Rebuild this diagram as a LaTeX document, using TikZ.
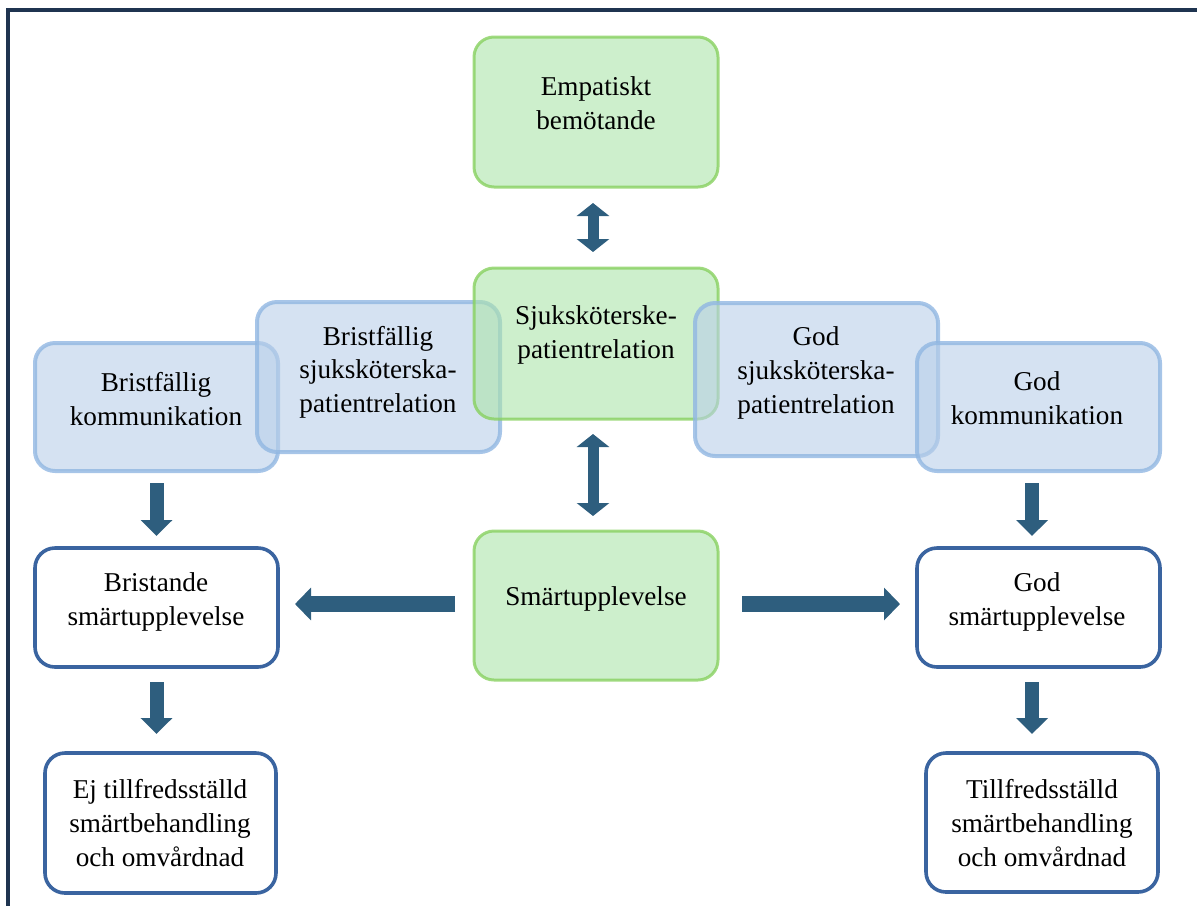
\documentclass[tikz,border=0pt]{standalone}
\usepackage{fontspec}
\setmainfont{Liberation Serif}
\usetikzlibrary{arrows.meta}
\definecolor{gfill}{HTML}{ACE4AA}
\definecolor{gline}{HTML}{88D160}
\definecolor{bfill}{HTML}{B9CFE9}
\definecolor{bline}{HTML}{91B7E2}
\definecolor{dline}{HTML}{3A64A0}
\definecolor{arr}{HTML}{2E5E7E}
\definecolor{frame}{HTML}{1F3450}
\tikzset{
  box/.style={anchor=north west, rounded corners=10pt, inner sep=0pt, outer sep=0pt},
  greenbox/.style={box, fill=gfill, fill opacity=0.6, draw=gline, draw opacity=0.8, line width=1.5pt},
  bluebox/.style={box, fill=bfill, fill opacity=0.6, draw=bline, draw opacity=0.8, line width=2pt},
  whitebox/.style={box, fill=white, draw=dline, line width=1.8pt},
  txt/.style={align=center, inner sep=0pt, font=\fontsize{13.6}{16.8}\selectfont, text=black},
  bigarrow/.style={draw=arr, line width=8pt, -{Triangle[width=16pt,length=8pt]}},
  downarrow/.style={draw=arr, line width=7pt, -{Triangle[width=15.5pt,length=8pt]}},
  dblarrow/.style={draw=arr, line width=5.5pt, {Triangle[width=16pt,length=6.5pt]}-{Triangle[width=16pt,length=6.5pt]}},
}
\begin{document}
\begin{tikzpicture}[x=0.5pt, y=-0.5pt]
\useasboundingbox (0,0) rectangle (1197,905);
% frame
\draw[frame, line width=2pt] (8,920) -- (8,10) -- (1210,10);
% boxes
\node[greenbox, minimum width=122pt, minimum height=75pt] (emp) at (474,37) {};
\node[bluebox, minimum width=121.5pt, minimum height=64pt] (bkom) at (35,343) {};
\node[bluebox, minimum width=121.5pt, minimum height=75pt] (bsjuk) at (257,302) {};
\node[greenbox, minimum width=122pt, minimum height=75.5pt] (sjuk) at (474,268) {};
\node[bluebox, minimum width=121.5pt, minimum height=76.5pt] (gsjuk) at (695,303) {};
\node[bluebox, minimum width=121.5pt, minimum height=64pt] (gkom) at (917,343) {};
\node[greenbox, minimum width=122pt, minimum height=74.5pt] (smart) at (474,531) {};
\node[whitebox, minimum width=121.5pt, minimum height=59.5pt] (brist) at (35,548) {};
\node[whitebox, minimum width=121.5pt, minimum height=59.5pt] (gsmart) at (917,548) {};
\node[whitebox, minimum width=115.5pt, minimum height=70pt] (ej) at (45,753) {};
\node[whitebox, minimum width=116pt, minimum height=69.5pt] (till) at (926,753) {};
% texts
\node[txt] (tEmp) at (596,103) {Empatiskt\\bemötande};
\node[txt] (tSjuk) at (596,335) {Sjuksköterske-\\patientrelation};
\node[txt] (tBsjuk) at (378,372) {Bristfällig\\sjuksköterska-\\patientrelation};
\node[txt] (tBkom) at (156,399) {Bristfällig\\kommunikation};
\node[txt] (tGsjuk) at (816,373) {God\\sjuksköterska-\\patientrelation};
\node[txt] (tGkom) at (1037,398) {God\\kommunikation};
\node[txt] (tSmart) at (596,599) {Smärtupplevelse};
\node[txt] (tBrist) at (156,602) {Bristande\\smärtupplevelse};
\node[txt] (tGsmart) at (1037,602) {God\\smärtupplevelse};
\node[txt] (tEj) at (160,823) {Ej tillfredsställd\\smärtbehandling\\och omvårdnad};
\node[txt] (tTill) at (1042,823) {Tillfredsställd\\smärtbehandling\\och omvårdnad};
% arrows
\draw[dblarrow, shorten <=8pt, shorten >=8pt] ([xshift=-1.5pt]emp.south) -- ([xshift=-1.5pt]sjuk.north);
\draw[dblarrow, shorten <=7.5pt, shorten >=7.5pt] ([xshift=-1.5pt]sjuk.south) -- ([xshift=-1.5pt]smart.north);
\draw[bigarrow, shorten <=9.5pt, shorten >=8.5pt] ([yshift=0.75pt]smart.west) -- ([yshift=0.75pt]smart.west -| brist.east);
\draw[bigarrow, shorten <=12pt, shorten >=8.5pt] ([yshift=0.75pt]smart.east) -- ([yshift=0.75pt]smart.east -| gsmart.west);
\draw[downarrow, shorten <=6pt, shorten >=6pt] (bkom.south) -- (bkom.south |- brist.north);
\draw[downarrow, shorten <=7.5pt, shorten >=9.5pt] (brist.south) -- (brist.south |- ej.north);
\draw[downarrow, shorten <=6pt, shorten >=6pt] ([xshift=-3.25pt]gkom.south) -- ([xshift=-3.25pt]gkom.south |- gsmart.north);
\draw[downarrow, shorten <=7.5pt, shorten >=9.5pt] ([xshift=-3.25pt]gsmart.south) -- ([xshift=-3.25pt]gsmart.south |- till.north);
\end{tikzpicture}
\end{document}
